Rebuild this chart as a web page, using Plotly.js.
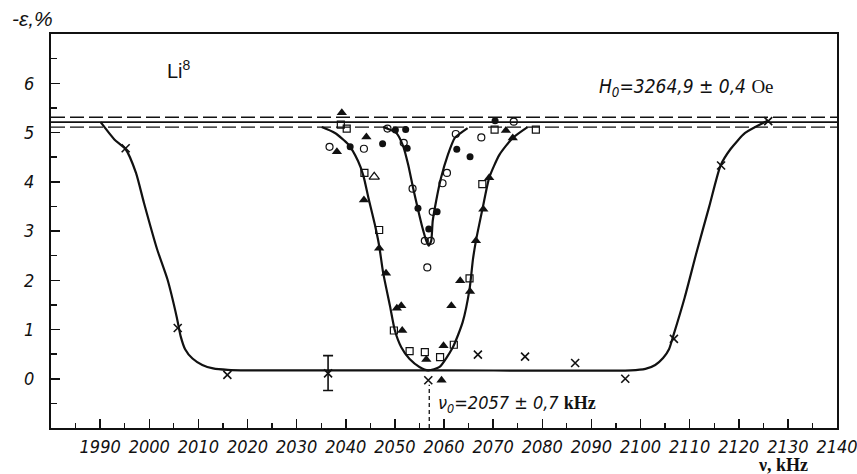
<!DOCTYPE html>
<html>
<head>
<meta charset="utf-8">
<script src="https://cdn.plot.ly/plotly-3.0.1.min.js"></script>
<style>html,body{margin:0;padding:0;background:#fff;}#chart{width:857px;height:474px;}</style>
</head>
<body>
<div id="chart"></div>
<script>
// ---- data ----
const xTicks = [1990,2000,2010,2020,2030,2040,2050,2060,2070,2080,2090,2100,2110,2120,2130,2140];
const yTicks = [0,1,2,3,4,5,6];

// crosses (×)
const crossX = [1995.2, 2005.8, 2015.9, 2056.8, 2066.9, 2076.5, 2086.7, 2096.9, 2106.8, 2116.4, 2126.0];
const crossY = [4.68, 1.03, 0.08, -0.03, 0.49, 0.45, 0.32, 0.0, 0.81, 4.33, 5.23];
// cross with error bar
const errX = [2036.4];
const errY = [0.11];
const errPlus = [0.36];
const errMinus = [0.35];

// open circles
const circOX = [2036.7, 2043.7, 2048.5, 2051.8, 2053.6, 2056.1, 2057.3, 2056.6, 2057.7, 2059.7, 2060.6, 2062.4, 2067.6, 2074.2];
const circOY = [4.71, 4.67, 5.08, 4.79, 3.86, 2.80, 2.80, 2.26, 3.39, 3.97, 4.18, 4.97, 4.90, 5.22];
// filled circles
const circFX = [2040.9, 2047.5, 2050.1, 2052.2, 2052.5, 2054.7, 2056.9, 2058.6, 2062.6, 2065.3, 2070.4];
const circFY = [4.71, 4.77, 5.05, 5.06, 4.68, 3.46, 3.04, 3.39, 4.66, 4.51, 5.24];
// open squares
const sqOX = [2039.0, 2040.2, 2043.8, 2046.8, 2049.8, 2053.0, 2056.1, 2059.2, 2062.0, 2065.2, 2067.8, 2070.3, 2078.7];
const sqOY = [5.16, 5.08, 4.18, 3.02, 0.98, 0.56, 0.54, 0.44, 0.69, 2.04, 3.95, 5.06, 5.06];
// filled triangles
const triFX = [2039.2, 2038.2, 2044.2, 2043.7, 2046.8, 2048.2, 2050.4, 2051.3, 2051.5, 2056.4, 2059.9, 2059.5, 2061.5, 2063.3, 2065.3, 2066.5, 2068.0, 2069.2, 2072.6, 2074.0];
const triFY = [5.40, 4.61, 4.91, 3.63, 2.65, 2.14, 1.43, 1.48, 0.98, 0.39, 0.67, -0.03, 1.48, 1.99, 1.77, 2.80, 3.44, 4.08, 5.04, 4.89];
// open triangle
const triOX = [2045.8];
const triOY = [4.10];

// fitted curves
const outerX = [1990.1, 1992.9, 1995.2, 1997.3, 1998.9, 2001.6, 2003.7, 2005.6, 2006.4, 2007.3, 2008.8, 2010.8, 2013, 2016, 2020, 2060, 2098, 2101, 2103, 2104.6, 2105.8, 2106.7, 2109, 2111.5, 2114, 2116.3, 2118.3, 2121.3, 2125.9];
const outerY = [5.21, 4.86, 4.66, 4.18, 3.58, 2.63, 2.02, 1.25, 0.86, 0.60, 0.41, 0.28, 0.21, 0.18, 0.17, 0.17, 0.17, 0.20, 0.28, 0.42, 0.60, 0.88, 1.65, 2.60, 3.50, 4.33, 4.66, 4.99, 5.24];
const wideX = [2035.1, 2037.8, 2040.5, 2042.5, 2043.6, 2044.6, 2045.9, 2046.8, 2047.6, 2049.0, 2050.0, 2051.3, 2053.0, 2055.0, 2056.8, 2059.1, 2061.8, 2063.8, 2065.2, 2065.9, 2066.5, 2067.9, 2069.2, 2071.3, 2074.0, 2077.0];
const wideY = [5.11, 4.99, 4.76, 4.42, 4.12, 3.68, 3.14, 2.70, 2.16, 1.48, 0.98, 0.64, 0.40, 0.24, 0.17, 0.24, 0.64, 1.15, 1.82, 2.43, 2.80, 3.48, 4.08, 4.55, 4.89, 5.11];
const narrowX = [2047.6, 2050.3, 2051.7, 2052.7, 2053.7, 2054.7, 2055.6, 2056.4, 2056.9, 2057.4, 2057.7, 2058.4, 2059.4, 2060.8, 2062.2, 2064.8];
const narrowY = [5.11, 4.99, 4.72, 4.35, 3.88, 3.44, 3.07, 2.80, 2.70, 2.80, 3.20, 3.61, 4.08, 4.55, 4.89, 5.09];

// H0 level line and its error band; resonance centre
const xRange = [1980, 2140];
const yRange = [-1, 7];
const h0Level = 5.21;
const h0Low = 5.11;
const h0High = 5.31;
const nu0 = 2057;
const nu0Arrow = [-1, -0.12];

// ---- styling ----
const narrowFam = "'Liberation Sans Narrow','DejaVu Sans Condensed','Liberation Sans',sans-serif";
const ital = {family: narrowFam, size: 18, color: '#111', style: 'italic'};
const ink = '#111';

const traces = [
  {x: xRange, y: [h0Level, h0Level], mode: 'lines', line: {color: ink, width: 1.6}, hoverinfo: 'skip'},
  {x: xRange, y: [h0High, h0High], mode: 'lines', line: {color: ink, width: 1.4, dash: '14px,5px'}, hoverinfo: 'skip'},
  {x: xRange, y: [h0Low, h0Low], mode: 'lines', line: {color: ink, width: 1.4, dash: '14px,5px'}, hoverinfo: 'skip'},
  {x: [nu0, nu0], y: nu0Arrow, mode: 'lines', line: {color: ink, width: 1.3, dash: '4px,3px'}, hoverinfo: 'skip'},
  {x: outerX, y: outerY, mode: 'lines', line: {color: ink, width: 2.2, shape: 'spline', smoothing: 0.6}},
  {x: wideX, y: wideY, mode: 'lines', line: {color: ink, width: 2.2, shape: 'spline', smoothing: 0.6}},
  {x: narrowX, y: narrowY, mode: 'lines', line: {color: ink, width: 2.2, shape: 'spline', smoothing: 0.5}},
  {x: crossX, y: crossY, mode: 'markers', marker: {symbol: 'x-thin-open', size: 8, line: {color: ink, width: 1.6}, color: ink}},
  {x: errX, y: errY, mode: 'markers', marker: {symbol: 'x-thin-open', size: 8, line: {color: ink, width: 1.6}, color: ink},
   error_y: {type: 'data', symmetric: false, array: errPlus, arrayminus: errMinus, color: ink, thickness: 1.6, width: 5}},
  {x: circOX, y: circOY, mode: 'markers', marker: {symbol: 'circle-open', size: 7, line: {color: ink, width: 1.2}, color: ink}},
  {x: circFX, y: circFY, mode: 'markers', marker: {symbol: 'circle', size: 7, color: ink}},
  {x: sqOX, y: sqOY, mode: 'markers', marker: {symbol: 'square-open', size: 7, line: {color: ink, width: 1.2}, color: ink}},
  {x: triFX, y: triFY, mode: 'markers', marker: {symbol: 'triangle-up', size: 9, color: ink}},
  {x: triOX, y: triOY, mode: 'markers', marker: {symbol: 'triangle-up-open', size: 9, line: {color: ink, width: 1.2}, color: ink}}
];

const layout = {
  width: 857, height: 474,
  margin: {l: 51, r: 20, t: 34, b: 46},
  paper_bgcolor: '#fff', plot_bgcolor: '#fff',
  showlegend: false,
  xaxis: {
    range: xRange, tickmode: 'array', tickvals: xTicks, ticktext: xTicks.map(String),
    ticks: 'inside', ticklen: 9, tickwidth: 1.5, tickcolor: ink,
    minor: {tickmode: 'linear', tick0: 1980, dtick: 5, ticks: 'inside', ticklen: 5, tickwidth: 1.3, tickcolor: ink},
    showline: true, linecolor: ink, linewidth: 2, mirror: true,
    showgrid: false, zeroline: false, tickfont: ital, ticklabelstandoff: 1,
    ticklabeloverflow: 'allow', automargin: false
  },
  yaxis: {
    range: yRange, tickmode: 'array', tickvals: yTicks, ticktext: yTicks.map(String),
    ticks: 'inside', ticklen: 9, tickwidth: 1.5, tickcolor: ink,
    minor: {tickmode: 'linear', tick0: -1, dtick: 0.5, ticks: 'inside', ticklen: 6, tickwidth: 1.3, tickcolor: ink},
    showline: true, linecolor: ink, linewidth: 2, mirror: true,
    showgrid: false, zeroline: false, tickfont: ital, ticklabelstandoff: 11,
    ticklabeloverflow: 'allow', automargin: false
  },
  annotations: [
    {xref: 'paper', yref: 'paper', x: -0.052, y: 1.04, xanchor: 'left', yanchor: 'middle', showarrow: false,
     text: '-ε,%', font: {family: "'Liberation Sans','DejaVu Sans',sans-serif", size: 21, color: ink, style: 'italic'}},
    {xref: 'paper', yref: 'paper', x: 0.897, y: -0.093, xanchor: 'left', yanchor: 'middle', showarrow: false,
     text: 'ν, kHz', font: {family: "'Liberation Serif','DejaVu Serif',serif", size: 18, color: ink, weight: 'bold'}},
    {xref: 'paper', yref: 'paper', x: 0.145, y: 0.91, xanchor: 'left', yanchor: 'middle', showarrow: false,
     text: 'Li<sup>8</sup>', font: {family: "'Liberation Sans','DejaVu Sans',sans-serif", size: 20, color: ink}},
    {xref: 'paper', yref: 'paper', x: 0.695, y: 0.865, xanchor: 'left', yanchor: 'middle', showarrow: false,
     text: 'H<sub>0</sub>=3264,9 ± 0,4 <span style="font-family:\'Liberation Serif\',serif;font-style:normal">Oe</span>',
     font: {family: narrowFam, size: 19, color: ink, style: 'italic'}},
    {xref: 'paper', yref: 'paper', x: 0.49, y: 0.06, xanchor: 'left', yanchor: 'middle', showarrow: false,
     text: 'ν<sub>0</sub>=2057 ± 0,7 <span style="font-family:\'Liberation Serif\',serif;font-style:normal;font-weight:bold">kHz</span>',
     font: {family: narrowFam, size: 18, color: ink, style: 'italic'}}
  ]
};

Plotly.newPlot('chart', traces, layout, {displayModeBar: false, staticPlot: true});
</script>
</body>
</html>
